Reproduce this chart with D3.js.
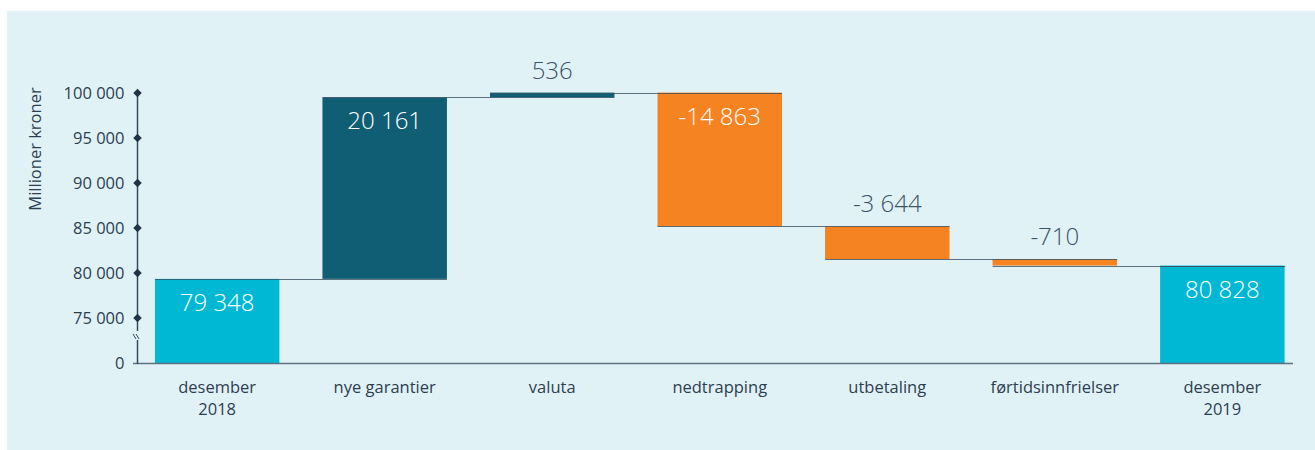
<!DOCTYPE html>
<html>
<head>
<meta charset="utf-8">
<script src="https://cdn.jsdelivr.net/npm/d3@7"></script>
<style>
  body { margin: 0; background: #fff; }
  svg { display: block; font-family: "Open Sans", sans-serif; }
</style>
</head>
<body>
<div id="chart"></div>
<script>
// Waterfall data
const categories = [
    'desember\n2018',
    'nye garantier',
    'valuta',
    'nedtrapping',
    'utbetaling',
    'førtidsinnfrielser',
    'desember\n2019'
]
const values = [79348, 20161, 536, -14863, -3644, -710, 80828]
const kinds = ['total', 'delta', 'delta', 'delta', 'delta', 'delta', 'total']
const yTicks = [75000, 80000, 85000, 90000, 95000, 100000]
const yBreakValue = 70000   // shown as "0" below the axis break

const colors = {
    total: '#00b8d4',
    up: '#0f5e73',
    down: '#f58322'
}

const width = 1315
const height = 450
const textColor = '#2d3e50'

// running totals
var steps = []
var running = 0
values.forEach(function(v, i){
    var start, end
    if (kinds[i] === 'total') {
        start = yBreakValue
        end = v
        running = v
    } else {
        start = running
        end = running + v
        running = end
    }
    steps.push({cat: categories[i], value: v, kind: kinds[i], start: start, end: end, level: running})
})

var fmt = function(v){
    return d3.format(',')(v).replace(/,/g, ' ').replace('\u2212', '-')
}

var svg = d3.select('#chart')
    .append('svg')
    .attr('width', width)
    .attr('height', height)

// panel background
svg.append('rect')
    .attr('x', 7)
    .attr('y', 11)
    .attr('width', width - 7)
    .attr('height', height - 11)
    .attr('fill', '#e1f2f7')

var x = d3.scaleBand()
    .domain(d3.range(categories.length))
    .range([137, 1302.5])
    .paddingInner(0.257)
    .paddingOuter(0.107)

var y = d3.scaleLinear()
    .domain([yBreakValue, 100000])
    .range([363, 93])

// bars
svg.append('g')
    .selectAll('rect')
    .data(steps)
    .enter()
    .append('rect')
    .attr('x', function(d, i){ return x(i) })
    .attr('width', x.bandwidth())
    .attr('y', function(d){ return y(Math.max(d.start, d.end)) })
    .attr('height', function(d){ return Math.abs(y(d.start) - y(d.end)) })
    .attr('fill', function(d){
        if (d.kind === 'total') return colors.total
        return d.value >= 0 ? colors.up : colors.down
    })

// connector lines: running level from this bar to the end of the next one
svg.append('g')
    .selectAll('line')
    .data(steps)
    .enter()
    .append('line')
    .attr('x1', function(d, i){ return x(i) })
    .attr('x2', function(d, i){
        var j = Math.min(i + 1, steps.length - 1)
        return x(j) + x.bandwidth()
    })
    .attr('y1', function(d){ return Math.round(y(d.level)) + 0.5 })
    .attr('y2', function(d){ return Math.round(y(d.level)) + 0.5 })
    .attr('stroke', '#3b5062')
    .attr('stroke-opacity', 0.8)
    .attr('stroke-width', 1.2)

// value labels
svg.append('g')
    .selectAll('text')
    .data(steps)
    .enter()
    .append('text')
    .attr('x', function(d, i){ return x(i) + x.bandwidth() / 2 })
    .attr('y', function(d){
        var top = y(Math.max(d.start, d.end))
        var h = Math.abs(y(d.start) - y(d.end))
        return h > 40 ? top + 32 : top - 14
    })
    .attr('text-anchor', 'middle')
    .attr('font-size', 24)
    .attr('font-weight', 300)
    .attr('fill', function(d){
        var h = Math.abs(y(d.start) - y(d.end))
        return h > 40 ? '#ffffff' : '#3d5263'
    })
    .text(function(d){ return fmt(d.value) })

// x axis line
svg.append('line')
    .attr('x1', 133)
    .attr('x2', 1293)
    .attr('y1', 363.5)
    .attr('y2', 363.5)
    .attr('stroke', '#5d7080')
    .attr('stroke-width', 1.3)

// x labels
var xl = svg.append('g')
    .selectAll('text')
    .data(categories)
    .enter()
    .append('text')
    .attr('x', function(d, i){ return x(i) + x.bandwidth() / 2 })
    .attr('y', 393)
    .attr('text-anchor', 'middle')
    .attr('font-size', 16.5)
    .attr('fill', textColor)
xl.selectAll('tspan')
    .data(function(d){ return d.split('\n') })
    .enter()
    .append('tspan')
    .attr('x', function(){ return d3.select(this.parentNode).attr('x') })
    .attr('dy', function(d, i){ return i === 0 ? 0 : 22 })
    .text(function(d){ return d })

// y axis with break
var axisX = 137.5
svg.append('line')
    .attr('x1', axisX).attr('x2', axisX)
    .attr('y1', y(100000)).attr('y2', 331)
    .attr('stroke', '#34495e').attr('stroke-width', 1.5)
svg.append('line')
    .attr('x1', axisX).attr('x2', axisX)
    .attr('y1', 340).attr('y2', 364)
    .attr('stroke', '#34495e').attr('stroke-width', 1.5)
svg.append('g')
    .selectAll('line')
    .data([0, 1])
    .enter()
    .append('line')
    .attr('x1', function(d){ return 133 + d * 3 })
    .attr('x2', function(d){ return 136 + d * 3 })
    .attr('y1', 334)
    .attr('y2', 339)
    .attr('stroke', '#34495e')
    .attr('stroke-width', 1)

var ticks = svg.append('g')
    .selectAll('g')
    .data(yTicks)
    .enter()
    .append('g')
    .attr('transform', function(d){ return 'translate(' + axisX + ',' + y(d) + ')' })
ticks.append('rect')
    .attr('x', -3)
    .attr('y', -3)
    .attr('width', 6)
    .attr('height', 6)
    .attr('transform', 'rotate(45)')
    .attr('fill', '#1f3447')
ticks.append('text')
    .attr('x', -13)
    .attr('dy', '0.35em')
    .attr('text-anchor', 'end')
    .attr('font-size', 16.5)
    .attr('fill', textColor)
    .text(function(d){ return fmt(d) })

svg.append('text')
    .attr('x', axisX - 13)
    .attr('y', y(yBreakValue))
    .attr('dy', '0.35em')
    .attr('text-anchor', 'end')
    .attr('font-size', 16.5)
    .attr('fill', textColor)
    .text('0')

// y title
svg.append('text')
    .attr('transform', 'translate(41,149) rotate(-90)')
    .attr('text-anchor', 'middle')
    .attr('font-size', 16.5)
    .attr('fill', textColor)
    .text('Millioner kroner')
</script>
</body>
</html>
